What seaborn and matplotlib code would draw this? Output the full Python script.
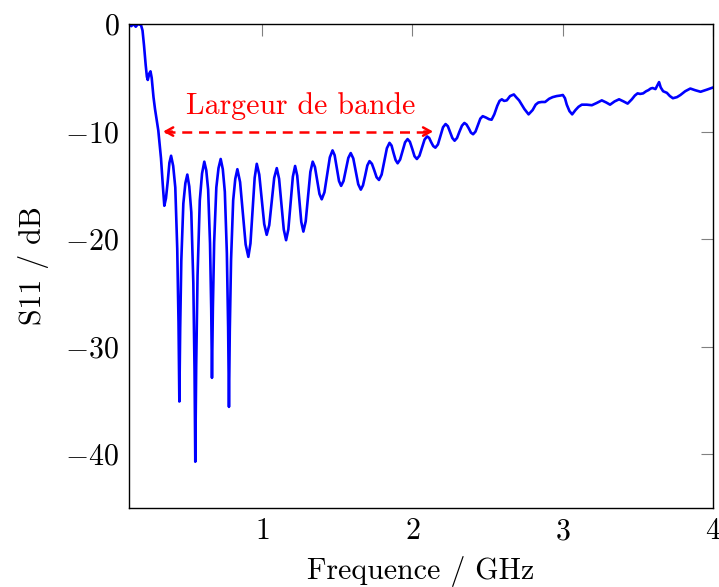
import numpy as np
import pandas as pd
import matplotlib
matplotlib.use("Agg")
import matplotlib.pyplot as plt
import seaborn as sns

# Frequenz in GHz, S11 in dB
freq_ghz = [
    0.115, 0.13, 0.145, 0.16, 0.175, 0.195, 0.205, 0.215, 0.226, 0.234, 0.240,
    0.250, 0.258, 0.266, 0.278, 0.288, 0.310, 0.328, 0.340, 0.350,
    0.361, 0.373, 0.384, 0.395,
    0.409, 0.423, 0.436, 0.4445, 0.450,
    0.4555, 0.463, 0.4765, 0.490, 0.503,
    0.516, 0.5295, 0.543, 0.551, 0.556,
    0.562, 0.571, 0.586, 0.601, 0.616,
    0.629, 0.6415, 0.654, 0.662, 0.667,
    0.673, 0.6815, 0.696, 0.7105, 0.725,
    0.739, 0.7525, 0.766, 0.7745, 0.780,
    0.7855, 0.794, 0.808, 0.822, 0.836,
    0.854, 0.8725, 0.891, 0.909,
    0.923, 0.937, 0.951, 0.965,
    0.9815, 0.998, 1.0145, 1.031,
    1.048, 1.0645, 1.081, 1.098,
    1.1135, 1.129, 1.1445, 1.160,
    1.175, 1.190, 1.205, 1.220,
    1.234, 1.2475, 1.261, 1.275,
    1.2905, 1.306, 1.3215, 1.337,
    1.352, 1.367, 1.382, 1.397,
    1.415, 1.433, 1.451, 1.469,
    1.483, 1.4975, 1.512, 1.526,
    1.542, 1.558, 1.574, 1.590,
    1.607, 1.6235, 1.640, 1.657,
    1.6715, 1.686, 1.7005, 1.715,
    1.731, 1.7465, 1.762, 1.778,
    1.7955, 1.813, 1.8305, 1.848,
    1.8615, 1.875, 1.8885, 1.902,
    1.9185, 1.935, 1.9515, 1.968,
    1.9835, 1.999, 2.0145, 2.030,
    2.047, 2.064, 2.081, 2.098,
    2.112, 2.1255, 2.139, 2.153,
    2.17, 2.187, 2.204, 2.221,
    2.236, 2.251, 2.266, 2.281,
    2.297, 2.3135, 2.33, 2.346,
    2.3605, 2.375, 2.3895, 2.404,
    2.42, 2.436, 2.452, 2.468,
    2.49, 2.51, 2.527, 2.545, 2.565, 2.58, 2.595, 2.61, 2.628, 2.65, 2.675,
    2.69, 2.71, 2.723, 2.745, 2.773, 2.80, 2.82, 2.838, 2.86, 2.883, 2.91,
    2.933, 2.96, 2.985, 3.001, 3.015, 3.027, 3.045, 3.063, 3.085, 3.105,
    3.127, 3.16, 3.194, 3.225, 3.260, 3.29, 3.315, 3.345, 3.375, 3.405,
    3.432, 3.46, 3.48, 3.498, 3.515, 3.535, 3.555, 3.570, 3.585, 3.598,
    3.617, 3.63, 3.641, 3.652, 3.668, 3.693, 3.713, 3.733, 3.76, 3.783,
    3.815, 3.849, 3.88, 3.917, 3.96, 4.0,
]
s11_db = [
    0.0, -0.2, 0.0, -0.25, 0.0, -0.1, -0.6, -2.0, -3.8, -4.9, -5.2,
    -4.6, -4.4, -5.0, -6.8, -7.9, -9.9, -12.5, -15.0, -16.9,
    -16.2, -14.6, -12.9, -12.25,
    -13.2, -15.2, -20.9, -27.8, -35.1,
    -28.3, -22.0, -16.7, -14.8, -14.0,
    -15.1, -17.5, -24.1, -32.2, -40.7,
    -31.8, -23.4, -16.4, -13.9, -12.8,
    -13.6, -15.4, -20.4, -26.5, -32.9,
    -26.4, -20.3, -15.2, -13.4, -12.55,
    -13.5, -15.6, -21.3, -28.2, -35.6,
    -28.5, -21.9, -16.4, -14.4, -13.5,
    -14.7, -17.6, -20.5, -21.65,
    -20.4, -17.3, -14.3, -13.0,
    -14.0, -16.3, -18.6, -19.6,
    -18.7, -16.5, -14.3, -13.4,
    -14.4, -16.75, -19.1, -20.1,
    -19.1, -16.65, -14.2, -13.2,
    -14.1, -16.25, -18.4, -19.3,
    -18.35, -16.05, -13.75, -12.8,
    -13.3, -14.55, -15.8, -16.3,
    -15.65, -14.0, -12.4, -11.75,
    -12.2, -13.4, -14.6, -15.05,
    -14.6, -13.5, -12.45, -12.0,
    -12.5, -13.7, -14.9, -15.4,
    -15.0, -14.1, -13.15, -12.75,
    -13.0, -13.6, -14.25, -14.5,
    -14.0, -12.8, -11.55, -11.05,
    -11.3, -12.0, -12.65, -12.95,
    -12.6, -11.8, -11.0, -10.7,
    -10.95, -11.6, -12.3, -12.55,
    -12.25, -11.5, -10.75, -10.45,
    -10.6, -11.0, -11.35, -11.5,
    -11.2, -10.4, -9.6, -9.3,
    -9.5, -10.05, -10.6, -10.85,
    -10.6, -10.0, -9.45, -9.2,
    -9.35, -9.7, -10.1, -10.25,
    -10.0, -9.4, -8.8, -8.57,
    -8.7, -8.85, -8.9, -8.4, -7.6, -7.15, -7.0, -7.15, -7.1, -6.7, -6.55,
    -6.8, -7.1, -7.4, -7.9, -8.4, -8.0, -7.5, -7.3, -7.25, -7.25, -6.95,
    -6.8, -6.7, -6.65, -6.6, -6.9, -7.5, -8.1, -8.4, -8.0, -7.7,
    -7.5, -7.5, -7.55, -7.35, -7.1, -7.3, -7.5, -7.2, -7.0, -7.2,
    -7.4, -7.0, -6.65, -6.45, -6.5, -6.45, -6.25, -6.15, -6.0, -5.95,
    -6.05, -5.7, -5.4, -5.9, -6.25, -6.4, -6.7, -6.9, -6.8, -6.6,
    -6.25, -6.0, -6.15, -6.3, -6.1, -5.9,
]

x_ticks = [1, 2, 3, 4]
y_ticks = [0, -10, -20, -30, -40]
bande_start = 0.342
bande_end = 2.138
bande_niveau = -10
bande_text = "Largeur de bande"

df = pd.DataFrame({"f": freq_ghz, "s11": s11_db})

sns.set_theme(style="white")
plt.rcParams["font.family"] = "serif"
plt.rcParams["font.serif"] = ["cmr10", "DejaVu Serif"]
plt.rcParams["mathtext.fontset"] = "cm"
plt.rcParams["axes.formatter.use_mathtext"] = True
plt.rcParams["axes.unicode_minus"] = True
plt.rcParams["text.color"] = "black"
plt.rcParams["axes.labelcolor"] = "black"

fig, ax = plt.subplots(figsize=(7.19, 5.87), dpi=100)
fig.subplots_adjust(left=0.1794, right=0.9917, top=0.9591, bottom=0.1346)

sns.lineplot(data=df, x="f", y="s11", sort=False, estimator=None,
             color="#0000ff", linewidth=1.9, ax=ax)

# Pfeil fuer die Bandbreite
ax.plot([bande_start + 0.01, bande_end - 0.01], [bande_niveau, bande_niveau],
        color="red", lw=1.8, linestyle=(0, (4, 2.7)))
ax.annotate("", xy=(bande_start, bande_niveau), xytext=(bande_start + 0.06, bande_niveau),
            arrowprops=dict(arrowstyle="->,head_length=0.45,head_width=0.25",
                            color="red", lw=1.8, shrinkA=0, shrinkB=0))
ax.annotate("", xy=(bande_end, bande_niveau), xytext=(bande_end - 0.06, bande_niveau),
            arrowprops=dict(arrowstyle="->,head_length=0.45,head_width=0.25",
                            color="red", lw=1.8, shrinkA=0, shrinkB=0))
ax.text((bande_start + bande_end) / 2 + 0.015, bande_niveau + 2.4, bande_text,
        color="red", fontsize=21.5, ha="center", va="center")

ax.set_xlim(0.115, 4)
ax.set_ylim(-45, 0)
ax.set_xticks(x_ticks)
ax.set_yticks(y_ticks)
ax.tick_params(direction="in", length=8.5, width=0.8, color="#808080",
               labelcolor="black", labelsize=21.5, top=True, right=True, pad=7)
for sp in ax.spines.values():
    sp.set_color("black")
    sp.set_linewidth(1.0)

ax.set_xlabel("Frequence / GHz", fontsize=21.5, labelpad=8)
ax.set_ylabel("S11 / dB", fontsize=21.5, labelpad=12)

plt.savefig("out.png", dpi=100)
